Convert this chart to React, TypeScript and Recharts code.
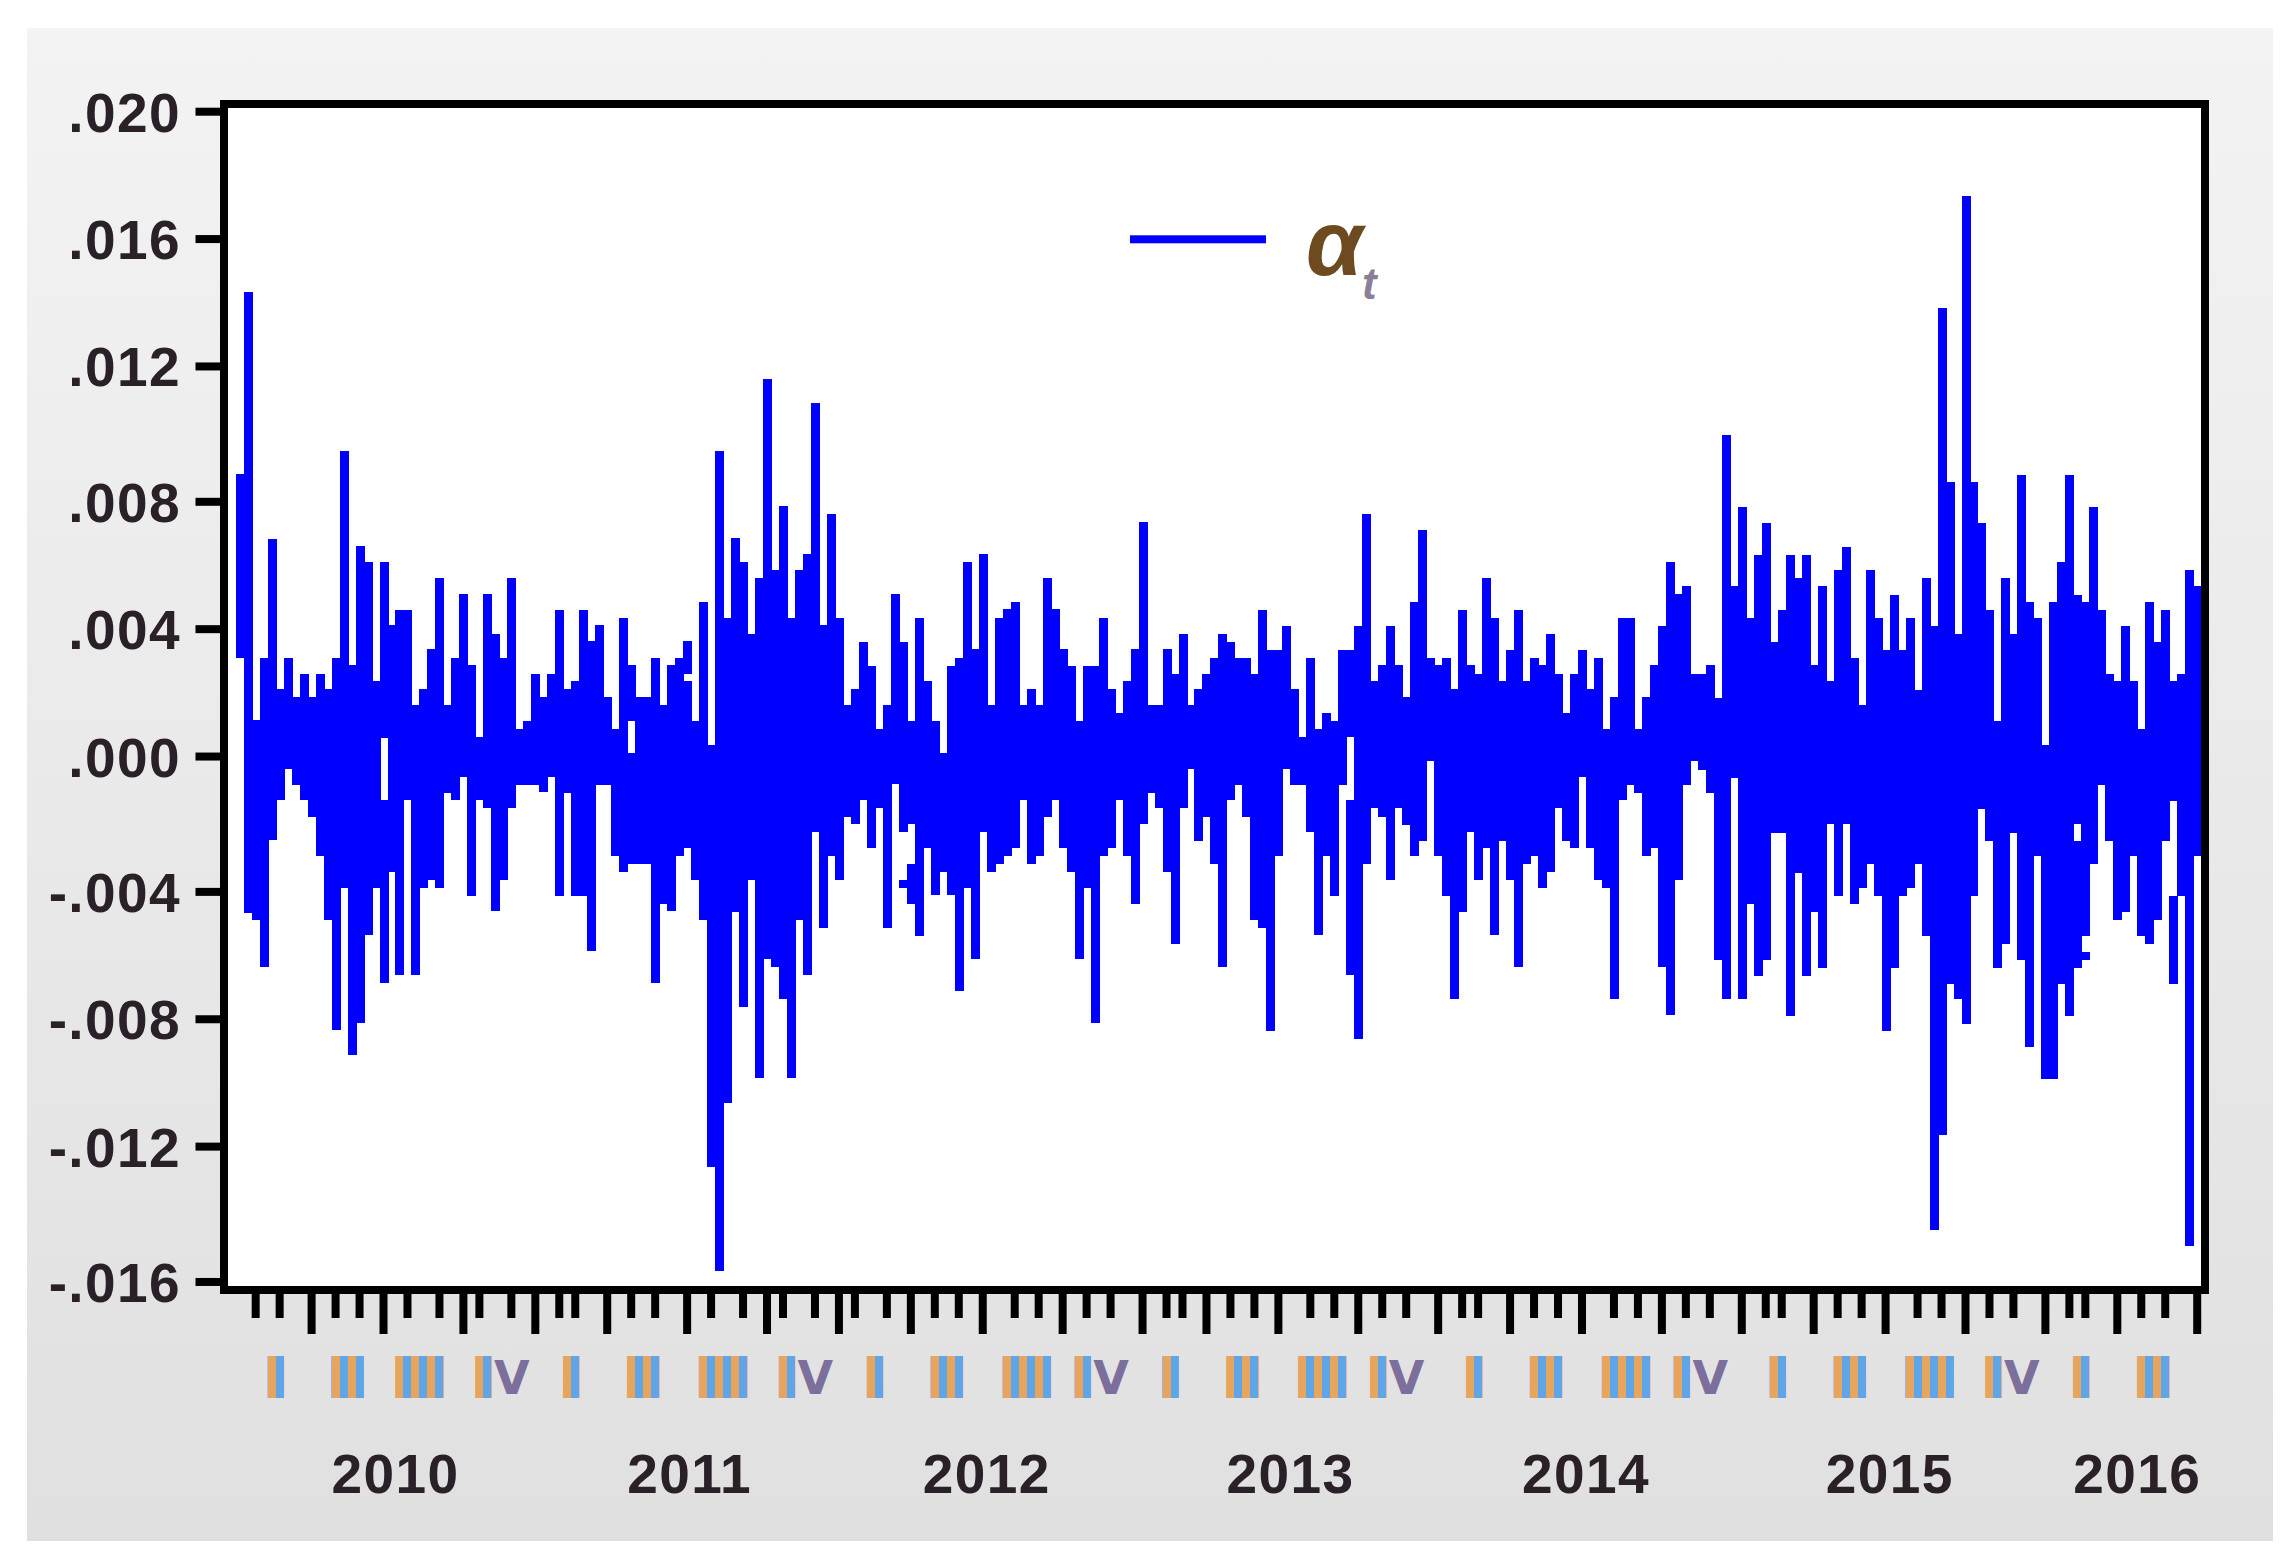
import React from "react";
import { ComposedChart, Bar, XAxis, YAxis, Legend } from "recharts";

// Per-column extremes of the daily series, in units of 0.001.
const highs = [
  8.7,14.3,1.13,3.06,6.7,2.09,3.06,1.85,2.57,1.85,
  2.57,2.09,3.06,9.43,2.82,6.5,6.0,2.34,6.0,4.05,
  4.53,4.53,1.6,2.09,3.33,5.5,1.6,3.06,5.02,2.82,
  0.61,5.02,3.8,3.06,5.5,0.86,1.11,2.57,1.85,2.57,
  4.53,2.09,2.34,4.53,3.56,4.05,1.85,0.86,4.28,2.82,
  1.85,1.85,3.06,1.6,2.82,3.06,3.56,1.11,4.78,0.36,
  9.42,4.28,6.74,6.0,3.8,5.5,11.62,5.76,7.71,4.28,
  5.76,6.24,10.9,4.05,7.47,4.28,1.6,2.09,3.55,2.81,
  0.86,1.6,5.02,3.55,1.1,4.28,2.33,1.1,0.12,2.81,
  3.05,6.0,3.31,6.24,1.6,4.28,4.54,4.78,1.6,2.09,
  1.6,5.5,4.54,3.31,2.81,1.1,2.81,2.81,4.28,2.09,
  1.36,2.33,3.31,7.22,1.6,1.6,3.31,2.57,3.79,1.6,
  2.08,2.57,3.05,3.79,3.55,3.05,3.05,2.57,4.53,3.3,
  3.3,4.04,2.08,0.61,3.05,0.86,1.35,1.11,3.3,3.3,
  4.04,7.47,2.33,2.82,4.04,2.82,1.85,4.78,6.98,3.05,
  2.82,3.05,2.08,4.53,2.82,2.57,5.51,4.29,2.33,3.3,
  4.53,2.33,3.05,2.82,3.79,2.57,1.35,2.57,3.3,2.08,
  3.05,0.86,1.85,4.29,4.29,0.86,1.85,2.82,4.04,5.99,
  5.02,5.26,2.57,2.57,2.83,1.83,9.9,5.26,7.7,4.29,
  6.23,7.2,3.54,4.53,6.23,5.5,6.23,2.83,5.26,2.33,
  5.74,6.47,3.06,1.6,5.74,4.29,3.3,5.0,3.3,4.29,
  2.07,5.5,4.03,13.82,8.45,3.8,17.25,8.45,7.2,4.53,
  1.1,5.5,3.8,8.67,4.77,4.29,0.37,4.77,6.0,8.67,
  5.0,4.77,7.7,4.53,2.57,2.33,4.03,2.33,0.86,4.77,
  3.54,4.53,2.33,2.57,5.74,5.26,
];
const lows = [
  3.06,-4.8,-5,-6.46,-2.56,-1.33,-0.36,-0.85,-1.33,-1.84,
  -3.06,-5,-8.4,-4.03,-9.16,-8.19,-5.49,-4.03,-6.95,-3.53,
  -6.7,-1.33,-6.7,-4.03,-3.78,-4.03,-1.1,-1.33,-0.6,-4.27,
  -1.33,-1.58,-4.75,-3.78,-1.58,-0.85,-0.85,-0.85,-1.08,-0.6,
  -4.27,-1.1,-4.27,-4.27,-5.98,-0.85,-0.85,-3.06,-3.53,-3.3,
  -3.3,-3.3,-6.95,-4.52,-4.75,-3.06,-2.8,-3.78,-5,-12.6,
  -15.8,-10.64,-4.76,-7.69,-3.78,-9.88,-6.22,-6.47,-7.45,-9.88,
  -5,-6.72,-2.31,-5.26,-3.05,-3.78,-1.83,-2.07,-1.33,-2.79,
  -1.57,-5.26,-0.84,-4.03,-4.52,-5.5,-2.79,-4.26,-3.53,-4.26,
  -7.21,-4.03,-6.22,-2.31,-3.53,-3.29,-3.05,-2.79,-1.33,-3.29,
  -3.05,-1.83,-1.33,-2.79,-3.53,-6.22,-4.03,-8.19,-3.05,-2.79,
  -1.33,-3.05,-4.52,-2.07,-1.1,-1.57,-3.53,-5.75,-1.58,-0.37,
  -2.57,-1.83,-3.3,-6.47,-1.33,-0.85,-1.83,-5,-5.26,-8.43,
  -3.05,-0.37,-0.85,-0.85,-2.32,-5.49,-3.05,-4.27,-0.85,-6.71,
  -8.67,-3.3,-1.58,-1.83,-3.78,-1.58,-2.08,-3.05,-2.57,-0.13,
  -3.05,-4.27,-7.45,-4.77,-2.32,-3.78,-2.8,-5.49,-2.57,-3.78,
  -6.47,-3.3,-3.05,-4.02,-3.53,-1.58,-2.57,-2.8,-0.61,-2.8,
  -3.78,-4.02,-7.45,-1.33,-0.85,-1.1,-3.05,-2.8,-6.47,-7.95,
  -3.78,-0.86,-0.13,-0.39,-1.1,-6.23,-7.46,-0.63,-7.46,-4.53,
  -6.73,-6.23,-2.33,-2.33,-7.96,-3.56,-6.73,-4.77,-6.49,-2.07,
  -4.27,-2.07,-4.53,-4.03,-3.3,-4.27,-8.43,-6.49,-4.27,-4.03,
  -3.3,-5.5,-14.56,-11.63,-6.97,-7.46,-8.2,-4.27,-1.6,-2.57,
  -6.49,-5.76,-2.33,-6.23,-8.93,-3.06,-9.9,-9.9,-6.97,-7.96,
  -6.49,-6.23,-3.3,-0.86,-2.57,-5,-4.77,-3.06,-5.5,-5.76,
  -5,-2.57,-6.97,-4.27,-15.03,-3.06,
];
// White gaps inside a few columns: [column, upper value, lower value].
const gapColumns = [18, 49, 56, 83, 84, 139, 230, 231, 242];
const gapUppers = [0.6, 1.11, 2.57, -2.31, -2.07, 0.61, -2.07, -5.5, -1.36];
const gapLowers = [-1.33, 0.13, 2.34, -3.78, -3.3, -1.33, -2.57, -6.0, -4.27];
// Readings were taken against the drawn zero tick, which sits just above the true zero.
const readingOffset = 0.07;

const yTicks = [0.02, 0.016, 0.012, 0.008, 0.004, 0, -0.004, -0.008, -0.012, -0.016];
const yLabels = [".020", ".016", ".012", ".008", ".004", ".000", "-.004", "-.008", "-.012", "-.016"];

const monthTicks = [
  2,5,9,12,15,18,21,25,28,30,34,37,40,42,46,49,52,56,59,63,66,68,72,75,77,81,84,87,90,93,
  97,100,103,106,109,113,116,118,121,124,127,130,134,137,140,143,146,150,153,155,159,162,165,168,
  172,175,178,181,184,188,191,193,197,200,203,206,210,213,216,219,222,226,229,231,235,238,241,245,
];
const quarterEndTicks = [9,18,28,37,46,56,66,75,84,93,103,113,121,130,140,150,159,168,178,188,197,206,216,226,235,245];
const quarterColumns = [4,12,20,30,41,49,58,68,79,87,96,105,116,124,133,142,154,162,171,180,192,200,209,219,230,238];
const quarterLabels = ["I","II","III","IV","I","II","III","IV","I","II","III","IV","I","II","III","IV","I","II","III","IV","I","II","III","IV","I","II"];
const yearColumns = [12, 49, 86, 124, 161, 199, 230];
const yearLabels = ["2010", "2011", "2012", "2013", "2014", "2015", "2016"];

const rows = highs.map((h, i) => {
  const g = gapColumns.indexOf(i);
  return {
    col: i,
    range: [(lows[i] + readingOffset) / 1000, (h + readingOffset) / 1000],
    gap: g >= 0 ? [(gapUppers[g] + readingOffset) / 1000, (gapLowers[g] + readingOffset) / 1000] : null,
  };
});

const allXTicks = Array.from(new Set([...monthTicks, ...quarterColumns, ...yearColumns])).sort((a, b) => a - b);

const W = 2295, H = 1567;
const PLOT = { left: 235.7, right: 2201.2, top: 109.3, bottom: 1279.3 };
const COL = (PLOT.right - PLOT.left) / highs.length;
const ROW = 7.961;
const BLUE = "#0000ff";
const TEXT = "#2a2028";
const FONT = "'Liberation Sans', Arial, sans-serif";

function ColumnShape(props: any) {
  const { x, y, width, height, payload } = props;
  const [lo, hi] = payload.range;
  const w = width + 1;
  if (!payload.gap) return <rect x={x} y={y} width={w} height={height} fill={BLUE} shapeRendering="crispEdges" />;
  const perUnit = height / (hi - lo);
  const y1 = y + (hi - payload.gap[0]) * perUnit;
  const y2 = y + (hi - payload.gap[1]) * perUnit;
  return (
    <g shapeRendering="crispEdges">
      <rect x={x} y={y} width={w} height={y1 - y} fill={BLUE} />
      <rect x={x} y={y2} width={w} height={y + height - y2} fill={BLUE} />
    </g>
  );
}

function YTick(props: any) {
  const { y, payload } = props;
  const i = yTicks.indexOf(payload.value);
  const snapped = 111.7 + Math.round((y - 111.7) / ROW) * ROW;
  return (
    <g>
      <rect x={195.5} y={snapped - 4} width={26} height={8} fill="#000" />
      <text x={181} y={snapped + 20} textAnchor="end" fontFamily={FONT} fontWeight="bold" fontSize={55} letterSpacing={1.4} fill={TEXT}>
        {yLabels[i]}
      </text>
    </g>
  );
}

function XTick(props: any) {
  const { x, payload } = props;
  const col = payload.value;
  const start = x - COL / 2;
  const isMonth = monthTicks.includes(col);
  const isLong = quarterEndTicks.includes(col);
  const q = quarterColumns.indexOf(col);
  const yr = yearColumns.indexOf(col);
  const gid = `q${col}`;
  return (
    <g>
      {isMonth && <rect x={x - 4} y={1292} width={8} height={(isLong ? 1334 : 1318) - 1292} fill="#000" />}
      {q >= 0 && (
        <g>
          <defs>
            <linearGradient id={gid} gradientUnits="userSpaceOnUse" x1={start} x2={start + 2 * COL} y1={0} y2={0} spreadMethod="repeat">
              <stop offset="0" stopColor="#e6a45c" />
              <stop offset="0.5" stopColor="#e6a45c" />
              <stop offset="0.5" stopColor="#5fa6e8" />
              <stop offset="1" stopColor="#5fa6e8" />
            </linearGradient>
          </defs>
          <text x={start - 0.5} y={1394} fontFamily="'DejaVu Sans', sans-serif" fontWeight="bold" fontSize={46} letterSpacing={-1.1} fill={`url(#${gid})`} stroke={`url(#${gid})`} strokeWidth={8} strokeLinejoin="miter">
            {quarterLabels[q].replace("V", "")}
            {quarterLabels[q].includes("V") && (
              <tspan fill="#7c6f9c" stroke="none" dx={3}>V</tspan>
            )}
          </text>
        </g>
      )}
      {yr >= 0 && (
        <text x={start} y={1493} fontFamily={FONT} fontWeight="bold" fontSize={55} letterSpacing={1.4} fill={TEXT}>
          {yearLabels[yr]}
        </text>
      )}
    </g>
  );
}

function LegendBox(props: any) {
  const item = props.payload && props.payload[0];
  return (
    <svg width={320} height={180} style={{ display: "block" }}>
      <rect x={10} y={65.3} width={136} height={8} fill={item ? item.color : BLUE} />
      <text x={186} y={105} fontFamily={FONT} fontStyle="italic" fontWeight="bold" fontSize={92} fill="#6e4a20">α</text>
      <text x={242} y={129} fontFamily={FONT} fontStyle="italic" fontWeight="bold" fontSize={44} fill="#8a7f96">t</text>
    </svg>
  );
}

export default function App() {
  return (
    <div style={{ position: "absolute", left: 0, top: 0, width: W, height: H, background: "#fff", overflow: "hidden" }}>
      <div style={{ position: "absolute", left: 27, top: 28, width: 2246, height: 1513, background: "linear-gradient(#f3f3f3, #e0e0e0)" }} />
      <div style={{ position: "absolute", left: 224, top: 104, width: 1981, height: 1186, background: "#fff" }} />
      <div style={{ position: "absolute", left: 0, top: 0 }}>
        <ComposedChart
          width={W}
          height={H}
          data={rows}
          barCategoryGap={0}
          barGap={0}
          margin={{ top: PLOT.top, right: W - PLOT.right, bottom: 0, left: 0 }}
        >
          <XAxis
            dataKey="col"
            type="category"
            ticks={allXTicks}
            interval={0}
            axisLine={false}
            tickLine={false}
            tickSize={0}
            tick={<XTick />}
            height={H - PLOT.bottom}
          />
          <YAxis
            type="number"
            domain={[-0.016, 0.02]}
            ticks={yTicks}
            interval={0}
            allowDataOverflow
            axisLine={false}
            tickLine={false}
            tick={<YTick />}
            width={PLOT.left}
          />
          <Legend
            layout="vertical"
            align="center"
            verticalAlign="middle"
            content={<LegendBox />}
            wrapperStyle={{ left: 1120, top: 170, width: 320, height: 180, margin: 0 }}
          />
          <Bar dataKey="range" name="αt" fill={BLUE} isAnimationActive={false} shape={<ColumnShape />} />
        </ComposedChart>
      </div>
      <div style={{ position: "absolute", left: 220, top: 100.3, width: 1988.8, height: 1193.7, boxSizing: "border-box", border: "8px solid #000", pointerEvents: "none" }} />
    </div>
  );
}
